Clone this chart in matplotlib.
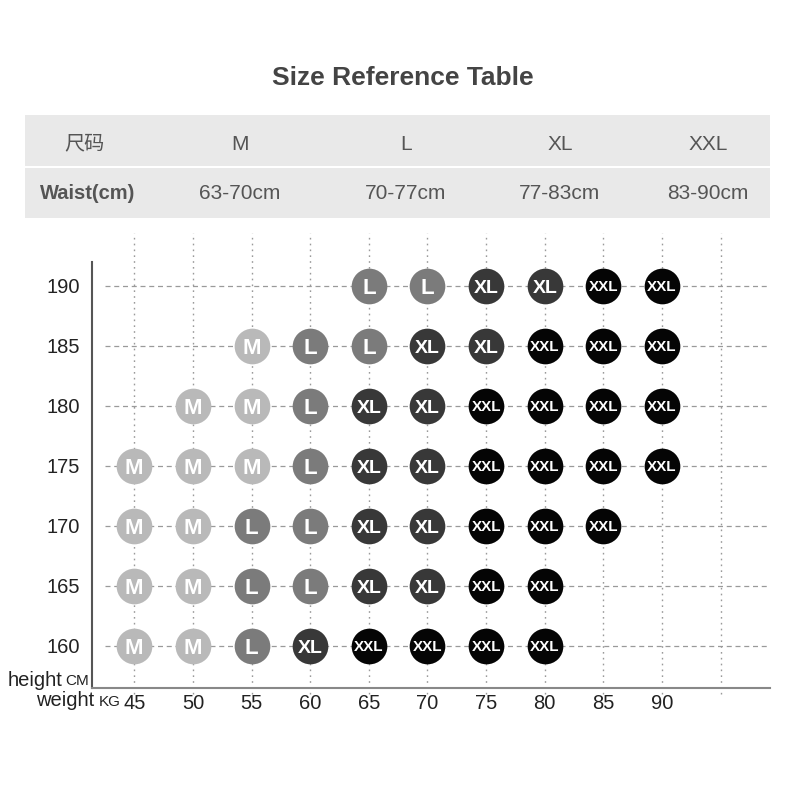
#!/usr/bin/env python3
"""Size reference chart: height x weight grid with recommended size badges."""
import matplotlib

matplotlib.use("Agg")
import matplotlib.pyplot as plt
from matplotlib.patches import Rectangle
from matplotlib.transforms import offset_copy

plt.rcParams["font.family"] = ["Liberation Sans", "Noto Sans CJK SC", "DejaVu Sans"]

# header table
size_names = ["M", "L", "XL", "XXL"]
waist_ranges = ["63-70cm", "70-77cm", "77-83cm", "83-90cm"]

# chart grid
weights = [45, 50, 55, 60, 65, 70, 75, 80, 85, 90]
heights = [190, 185, 180, 175, 170, 165, 160]
size_grid = [
    ["", "", "", "", "L", "L", "XL", "XL", "XXL", "XXL"],
    ["", "", "M", "L", "L", "XL", "XL", "XXL", "XXL", "XXL"],
    ["", "M", "M", "L", "XL", "XL", "XXL", "XXL", "XXL", "XXL"],
    ["M", "M", "M", "L", "XL", "XL", "XXL", "XXL", "XXL", "XXL"],
    ["M", "M", "L", "L", "XL", "XL", "XXL", "XXL", "XXL", ""],
    ["M", "M", "L", "L", "XL", "XL", "XXL", "XXL", "", ""],
    ["M", "M", "L", "XL", "XXL", "XXL", "XXL", "XXL", "", ""],
]

colors = {"M": "#b9b9b9", "L": "#7b7b7b", "XL": "#383838", "XXL": "#050505"}
label_size = {"M": 16, "L": 16, "XL": 14, "XXL": 11}

fig = plt.figure(figsize=(8, 8), dpi=100)

# title + header table
fig.text(0.503, 0.902, "Size Reference Table", ha="center", va="center",
         fontsize=19, fontweight="bold", color="#444444")
fig.patches.append(Rectangle((0.031, 0.7275), 0.932, 0.1287, transform=fig.transFigure,
                             facecolor="#e9e9e9", edgecolor="none"))
fig.patches.append(Rectangle((0.031, 0.790), 0.932, 0.0025, transform=fig.transFigure,
                             facecolor="white", edgecolor="none"))
col_x = [0.300, 0.507, 0.700, 0.885]
fig.text(0.106, 0.820, "尺码", ha="center", va="center", fontsize=14.5, color="#555555")
fig.text(0.110, 0.758, "Waist(cm)", ha="center", va="center", fontsize=14.5,
         fontweight="bold", color="#555555")
for cx, name, waist in zip(col_x, size_names, waist_ranges):
    fig.text(cx, 0.820, name, ha="center", va="center", fontsize=15, color="#555555")
    fig.text(cx, 0.758, waist, ha="center", va="center", fontsize=15, color="#555555")

# chart area
ax = fig.add_axes([0.115, 0.14, 0.8475, 0.566])
ax.set_xlim(41.4, 99.2)
ax.set_ylim(156.5, 194.2)

grid_x = weights + [95]
ax.hlines(heights, 42.5, 99.0, colors="#9a9a9a", linestyles=(0, (4, 3)), lw=0.9, zorder=1)
ax.vlines(grid_x, 156.0, 194.4, colors="#9a9a9a", linestyles=(0, (1.2, 3)), lw=1.0,
          zorder=1, clip_on=False)

for h, row in zip(heights, size_grid):
    for w, s in zip(weights, row):
        if not s:
            continue
        fs = label_size[s]
        ax.scatter(w, h, s=660, color=colors[s], zorder=3, linewidths=0)
        tr = offset_copy(ax.transData, fig=fig, y=-0.36 * fs, units="points")
        ax.text(w, h, s, ha="center", va="baseline", color="white", fontsize=fs,
                fontweight="bold", zorder=4, transform=tr)

for side in ["top", "right"]:
    ax.spines[side].set_visible(False)
ax.spines["left"].set_color("#555555")
ax.spines["left"].set_linewidth(1.5)
ax.spines["bottom"].set_color("#888888")
ax.spines["bottom"].set_linewidth(1.5)
ax.spines["left"].set_bounds(156.5, 192.0)

ax.set_xticks(weights)
ax.set_xticklabels([str(w) for w in weights], fontsize=14.5, color="#222222")
ax.set_yticks(heights)
ax.set_yticklabels([str(h) for h in heights], fontsize=14.5, color="#222222")
ax.tick_params(axis="x", length=0, pad=4)
ax.tick_params(axis="y", length=0, pad=9)

# axis captions
fig.text(0.010, 0.150, "height", ha="left", va="center", fontsize=14.5, color="#222222")
fig.text(0.081, 0.149, "CM", ha="left", va="center", fontsize=11, color="#222222")
fig.text(0.045, 0.124, "weight", ha="left", va="center", fontsize=14.5, color="#222222")
fig.text(0.123, 0.123, "KG", ha="left", va="center", fontsize=11, color="#222222")

fig.savefig("out.png", dpi=100, facecolor="white")
